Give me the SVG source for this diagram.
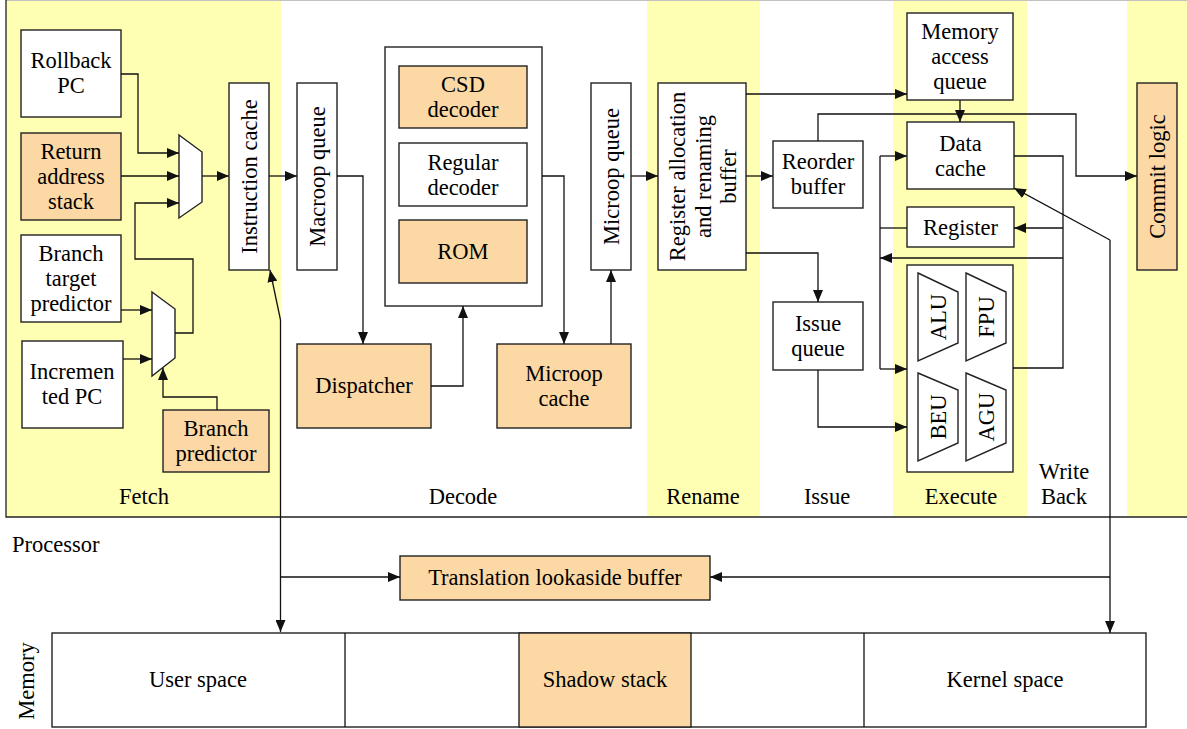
<svg xmlns="http://www.w3.org/2000/svg" width="1187" height="729" viewBox="0 0 1187 729">
<style>
text{font-family:'Liberation Serif','DejaVu Serif',serif;font-size:22.5px;fill:#000;text-anchor:middle}
.lt{text-anchor:start}
.box{fill:#fff;stroke:#222;stroke-width:1.4}
.pe{fill:#FCD8A4;stroke:#222;stroke-width:1.4}
.yl{fill:#FFFFB4}
.ln{fill:none;stroke:#111;stroke-width:1.3}
.ar{fill:none;stroke:#111;stroke-width:1.3;marker-end:url(#ah)}
</style>
<defs>
<marker id="ah" viewBox="0 0 12 10" refX="12" refY="5" markerWidth="12" markerHeight="10" markerUnits="userSpaceOnUse" orient="auto">
<path d="M0,0 L12,5 L0,10 z" fill="#111"/>
</marker>
</defs>
<rect x="0" y="0" width="1187" height="729" fill="#fff"/>
<g id="stages">
<rect class="yl" x="6" y="1" width="275" height="516"/>
<rect class="yl" x="647" y="1" width="113" height="516"/>
<rect class="yl" x="893" y="1" width="134" height="516"/>
<rect class="yl" x="1127" y="1" width="62" height="516"/>
<line x1="6" y1="0.4" x2="1187" y2="0.4" stroke="#bbb" stroke-width="1"/>
<path d="M6,0 V517 H1190" fill="none" stroke="#222" stroke-width="1.3"/>
<text x="144" y="504">Fetch</text>
<text x="463" y="504">Decode</text>
<text x="703" y="504">Rename</text>
<text x="827" y="504">Issue</text>
<text x="961" y="504">Execute</text>
<text x="1064" y="479">Write</text>
<text x="1064" y="504">Back</text>
<text class="lt" x="12" y="552">Processor</text>
</g>
<g id="rollback-pc"><rect class="box" x="21" y="30" width="100" height="87"/><text x="71" y="68">Rollback</text><text x="71" y="93">PC</text></g>
<g id="return-address-stack"><rect class="pe" x="21" y="133" width="100" height="87"/><text x="71" y="159">Return</text><text x="71" y="184">address</text><text x="71" y="209">stack</text></g>
<g id="branch-target-predictor"><rect class="box" x="21" y="235" width="100" height="87"/><text x="71" y="261">Branch</text><text x="71" y="286">target</text><text x="71" y="311">predictor</text></g>
<g id="incremented-pc"><rect class="box" x="22" y="341" width="101" height="87"/><text x="72" y="379">Incremen</text><text x="72" y="404">ted PC</text></g>
<g id="mux1"><polygon class="box" points="179,135 202,152 202,202 179,218"/></g>
<g id="mux2"><polygon class="box" points="152,292 175,309 175,358 152,376"/></g>
<g id="branch-predictor"><rect class="pe" x="163" y="410" width="106" height="62"/><text x="216" y="436">Branch</text><text x="216" y="461">predictor</text></g>
<g id="instruction-cache"><rect class="box" x="229" y="83" width="40" height="187"/><text transform="translate(249,176.5) rotate(-90)" y="8">Instruction cache</text></g>
<g id="macroop-queue"><rect class="box" x="297" y="83" width="40" height="187"/><text transform="translate(317,176.5) rotate(-90)" y="8">Macroop queue</text></g>
<g id="decoders"><rect class="box" x="385" y="47" width="157" height="259"/></g>
<g id="csd-decoder"><rect class="pe" x="399" y="66" width="128" height="62"/><text x="463" y="92">CSD</text><text x="463" y="117">decoder</text></g>
<g id="regular-decoder"><rect class="box" x="399" y="143" width="128" height="63"/><text x="463" y="169.5">Regular</text><text x="463" y="194.5">decoder</text></g>
<g id="rom"><rect class="pe" x="399" y="220" width="128" height="63"/><text x="463" y="259">ROM</text></g>
<g id="dispatcher"><rect class="pe" x="297" y="344" width="134" height="84"/><text x="364" y="393">Dispatcher</text></g>
<g id="microop-cache"><rect class="pe" x="497" y="344" width="134" height="84"/><text x="564" y="381">Microop</text><text x="564" y="406">cache</text></g>
<g id="microop-queue"><rect class="box" x="591" y="83" width="40" height="187"/><text transform="translate(611,176.5) rotate(-90)" y="8">Microop queue</text></g>
<g id="register-allocation"><rect class="box" x="658" y="83" width="88" height="187"/><text transform="translate(702,176.5) rotate(-90)" y="-17">Register allocation</text><text transform="translate(702,176.5) rotate(-90)" y="8.5">and renaming</text><text transform="translate(702,176.5) rotate(-90)" y="34">buffer</text></g>
<g id="reorder-buffer"><rect class="box" x="773" y="141" width="90" height="67"/><text x="818" y="168.5">Reorder</text><text x="818" y="193.5">buffer</text></g>
<g id="issue-queue"><rect class="box" x="773" y="302" width="90" height="68"/><text x="818" y="331">Issue</text><text x="818" y="356">queue</text></g>
<g id="memory-access-queue"><rect class="box" x="907" y="13" width="106" height="87"/><text x="960" y="38.5">Memory</text><text x="960" y="63.5">access</text><text x="960" y="88.5">queue</text></g>
<g id="data-cache"><rect class="box" x="907" y="122" width="107" height="67"/><text x="960.5" y="150.5">Data</text><text x="960.5" y="175.5">cache</text></g>
<g id="register"><rect class="box" x="907" y="207" width="107" height="40"/><text x="960.5" y="234.5">Register</text></g>
<g id="execution-units">
<rect class="box" x="907" y="265" width="106" height="207"/>
<polygon class="box" points="918,273 958,292 958,343 918,361"/><text transform="translate(938,317) rotate(-90)" y="7.5">ALU</text>
<polygon class="box" points="966,273 1006,292 1006,343 966,361"/><text transform="translate(986,317) rotate(-90)" y="7.5">FPU</text>
<polygon class="box" points="918,373 958,390 958,443 918,461"/><text transform="translate(938,417) rotate(-90)" y="7.5">BEU</text>
<polygon class="box" points="966,373 1006,390 1006,443 966,461"/><text transform="translate(986,417) rotate(-90)" y="7.5">AGU</text>
</g>
<g id="commit-logic"><rect class="pe" x="1137" y="83" width="40" height="187"/><text transform="translate(1157,176.5) rotate(-90)" y="8">Commit logic</text></g>
<g id="tlb"><rect class="pe" x="400" y="556" width="310" height="44"/><text x="555" y="585">Translation lookaside buffer</text></g>
<g id="memory">
<rect class="box" x="52" y="633" width="1094" height="94"/>
<rect class="pe" x="519" y="633" width="172" height="94"/>
<line class="ln" x1="345" y1="633" x2="345" y2="727"/>
<line class="ln" x1="864" y1="633" x2="864" y2="727"/>
<text x="198" y="687">User space</text>
<text x="605" y="687">Shadow stack</text>
<text x="1005" y="687">Kernel space</text>
<text transform="translate(27,681) rotate(-90)" y="7">Memory</text>
</g>
<g id="connectors">
<path class="ar" d="M121,74 H138 V153 H179"/>
<path class="ar" d="M121,176 H179"/>
<path class="ar" d="M175,333 H193 V259 H135 V203 H179"/>
<path class="ar" d="M121,310 H152"/>
<path class="ar" d="M123,359 H152"/>
<path class="ar" d="M217,410 V397 H163 V368"/>
<path class="ar" d="M202,176 H229"/>
<path class="ar" d="M269,176 H297"/>
<path class="ar" d="M280.5,320 L270,270"/>
<path class="ar" d="M280.5,320 V632"/>
<path class="ar" d="M280.5,577 H400"/>
<path class="ar" d="M337,176 H363 V344"/>
<path class="ar" d="M431,386 H463 V306"/>
<path class="ar" d="M542,176 H564 V344"/>
<path class="ar" d="M611,344 V270"/>
<path class="ar" d="M631,176 H658"/>
<path class="ar" d="M746,94 H907"/>
<path class="ar" d="M746,176 H773"/>
<path class="ar" d="M746,253 H818 V302"/>
<path class="ar" d="M818,141 V114 H1076 V176 H1137"/>
<path class="ar" d="M960,100 V122"/>
<path class="ar" d="M818,370 V427 H907"/>
<path class="ln" d="M880,156 V369"/>
<path class="ar" d="M880,156 H907"/>
<path class="ln" d="M907,228 H880"/>
<path class="ar" d="M880,369 H907"/>
<path class="ln" d="M1014,156 H1063 V368 H1013"/>
<path class="ar" d="M1063,228 H1014"/>
<path class="ar" d="M1063,258 H880"/>
<path class="ar" d="M1110,240 L1014,188"/>
<path class="ar" d="M1110,240 V633"/>
<path class="ar" d="M1110,577 H710"/>
</g>
</svg>
